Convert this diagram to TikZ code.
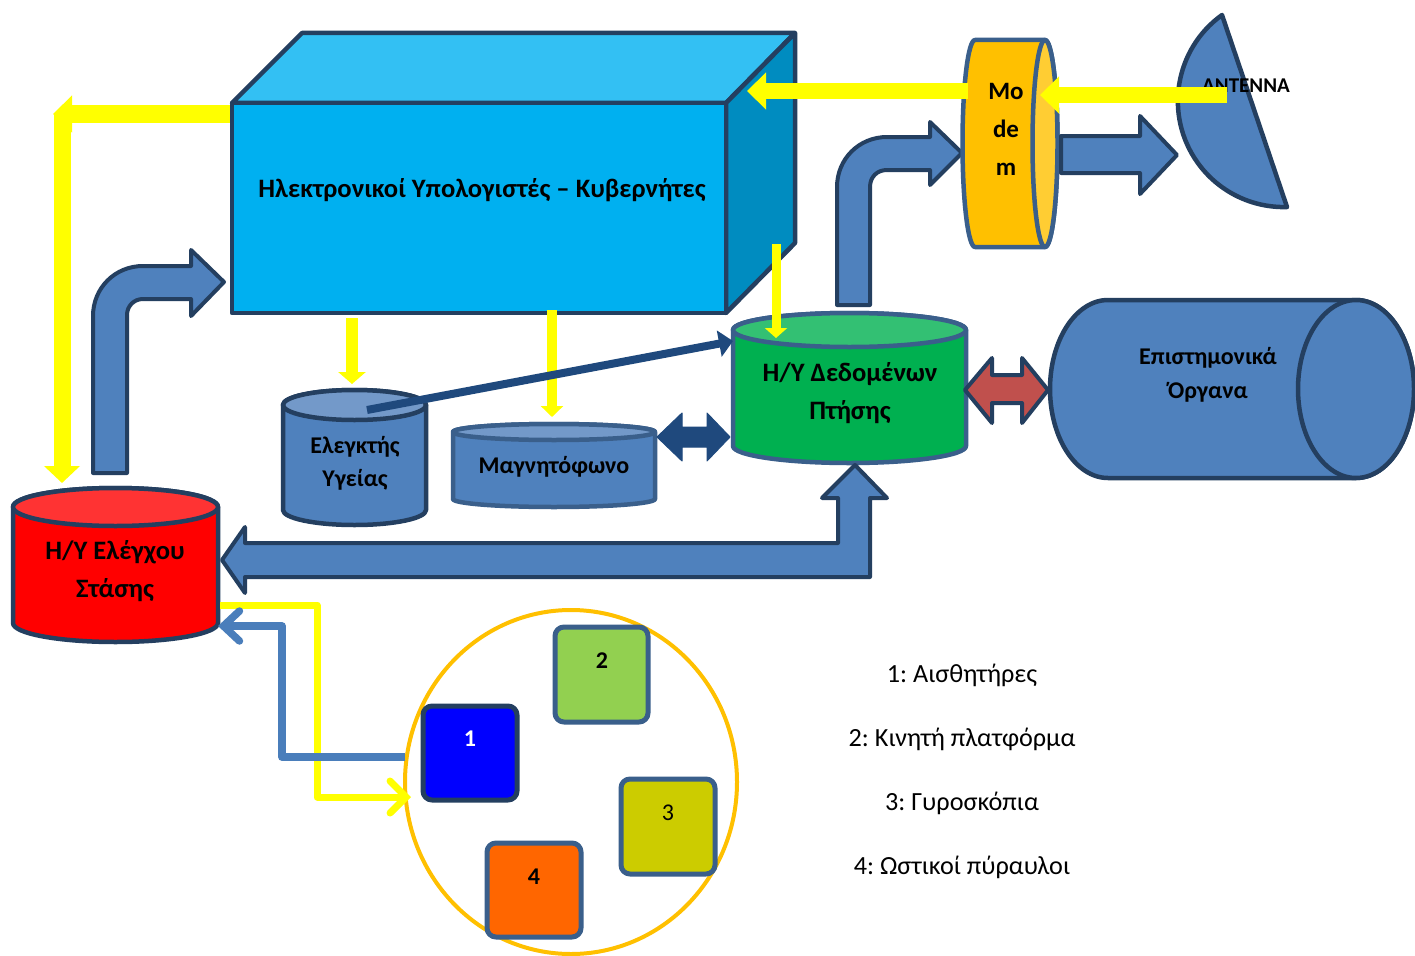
\documentclass[tikz,border=0pt]{standalone}
\usepackage{fontspec}
\setmainfont{Carlito}
\frenchspacing
\usetikzlibrary{arrows.meta}
\definecolor{navy}{HTML}{243F60}
\definecolor{steel}{HTML}{3A5F8B}
\definecolor{blueA}{HTML}{4F81BD}
\definecolor{blueTop}{HTML}{7399C9}
\definecolor{boxFront}{HTML}{00B0F0}
\definecolor{boxTop}{HTML}{33C0F3}
\definecolor{boxSide}{HTML}{008CC0}
\definecolor{grn}{HTML}{00B050}
\definecolor{grnTop}{HTML}{33C073}
\definecolor{redA}{HTML}{FF0000}
\definecolor{redTop}{HTML}{FF3333}
\definecolor{modemA}{HTML}{FFC000}
\definecolor{modemTop}{HTML}{FFCD33}
\definecolor{darkArrow}{HTML}{1F497D}
\definecolor{redArrow}{HTML}{C0504D}
\definecolor{ylw}{HTML}{FFFF00}
\definecolor{circ}{HTML}{FFC000}
\definecolor{sqOne}{HTML}{0000FF}
\definecolor{sqTwo}{HTML}{92D050}
\definecolor{sqThree}{HTML}{CCCC00}
\definecolor{sqFour}{HTML}{FF6600}
\definecolor{lineBlue}{HTML}{4A7EBB}
\newcommand\mycyl[8]{%
 \pgfmathsetmacro\myrx{(#2-#1)/2}%
 \pgfmathsetmacro\mycx{(#1+#2)/2}%
 \filldraw[fill=#6, draw=#8, line width=4.5pt] (#1,#3) -- (#1,#4) arc[start angle=180,end angle=360,x radius=\myrx pt,y radius=#5 pt] -- (#2,#3) arc[start angle=0,end angle=180,x radius=\myrx pt,y radius=#5 pt] -- cycle;
 \filldraw[fill=#7, draw=#8, line width=4.5pt] (\mycx,#3) ellipse[x radius=\myrx pt, y radius=#5 pt];
}
\begin{document}
\begin{tikzpicture}[x=1pt,y=-1pt,line join=round,
  lbl/.style={font=\bfseries\fontsize{24}{38}\selectfont, align=center, text=black, inner sep=0pt},
  biglbl/.style={lbl, font=\bfseries\fontsize{26.6}{38}\selectfont},
  legend/.style={font=\fontsize{26.2}{31}\selectfont, text=black, inner sep=0pt},
  bigarrow/.style={fill=blueA, draw=navy, line width=4pt},
  yarrow/.style={draw=ylw},
  sqbox/.style={rounded corners=9pt, line width=5pt}]
\useasboundingbox (0,0) rectangle (1415,955);
\fill[white] (0,0) rectangle (1415,955);

% named coordinates
\coordinate (boxL) at (230,114);
\coordinate (corner) at (53,114);
\coordinate (cornerV) at (62,114);
\coordinate (redTopPt) at (62,483);

% yellow arrows top-left
\draw[yarrow, line width=18pt, -{Triangle[length=19pt,width=36pt]}] (boxL) -- (corner);
\draw[yarrow, line width=17pt, -{Triangle[length=17pt,width=35pt]}] (cornerV) -- (redTopPt);

% 3D box
\filldraw[fill=boxTop, draw=navy, line width=4.5pt] (232,103) -- (302,33) -- (795,33) -- (726,103) -- cycle;
\filldraw[fill=boxSide, draw=navy, line width=4.5pt] (726,103) -- (795,33) -- (795,243) -- (726,313) -- cycle;
\filldraw[fill=boxFront, draw=navy, line width=4.5pt] (232,103) rectangle (726,313);
\node[biglbl] (comp) at (482,190) {Ηλεκτρονικοί Υπολογιστές – Κυβερνήτες};

% bent arrow from red cylinder to box
\filldraw[bigarrow] (93,473) -- (93,316) .. controls (93,288) and (115,266) .. (143,266) -- (191,266) -- (191,250) -- (224,282) -- (191,316) -- (191,299) -- (143,299) .. controls (134,299) and (127,306) .. (127,315) -- (127,473) -- cycle;

% cylinders
\mycyl{13}{218}{507}{623}{19}{redA}{redTop}{navy}
\node[biglbl] (att) at (115,571) {H/Y Ελέγχου\\Στάσης};
\mycyl{283}{426}{405}{510}{15}{blueA}{blueTop}{navy}
\node[lbl, font=\bfseries\fontsize{24}{33}\selectfont] (health) at (355,463) {Ελεγκτής\\Υγείας};
\mycyl{453}{655}{432}{499}{8}{blueA}{blueTop}{steel}
\node[lbl] (tape) at (554,467) {Μαγνητόφωνο};
\mycyl{733}{966}{330}{446}{17}{grn}{grnTop}{steel}
\node[biglbl] (fdc) at (850,393) {H/Y Δεδομένων\\Πτήσης};

% scientific instruments (horizontal cylinder)
\filldraw[fill=blueA, draw=navy, line width=4.5pt] (1108,300) -- (1356,300) arc[start angle=90,end angle=-90,x radius=58pt,y radius=89pt] -- (1108,478) arc[start angle=270,end angle=90,x radius=58pt,y radius=89pt] -- cycle;
\filldraw[fill=blueA, draw=navy, line width=4.5pt] (1356,389) ellipse[x radius=58pt, y radius=89pt];
\node[lbl, font=\bfseries\fontsize{24}{34}\selectfont] (sci) at (1208,375) {Επιστημονικά\\Όργανα};

% red double arrow
\filldraw[fill=redArrow, draw=navy, line width=4pt] (965,390) -- (992,358) -- (992,375) -- (1022,375) -- (1022,358) -- (1048,390) -- (1022,423) -- (1022,403) -- (992,403) -- (992,423) -- cycle;

% bent arrow to modem
\filldraw[bigarrow] (837,305) -- (837,187) .. controls (837,159) and (859,137) .. (887,137) -- (930,137) -- (930,122) -- (962,153) -- (930,185) -- (930,170) -- (887,170) .. controls (877,170) and (870,177) .. (870,187) -- (870,305) -- cycle;

% modem
\filldraw[fill=modemA, draw=steel, line width=4.5pt] (975,40) -- (1045,40) arc[start angle=90,end angle=-90,x radius=12.5pt,y radius=103.5pt] -- (975,247) arc[start angle=270,end angle=90,x radius=12.5pt,y radius=103.5pt] -- cycle;
\filldraw[fill=modemTop, draw=steel, line width=4.5pt] (1045,143.5) ellipse[x radius=12.5pt, y radius=103.5pt];
\node[lbl, font=\bfseries\fontsize{25}{38}\selectfont] (modem) at (1006,129) {Mo\\de\\m};

% modem -> antenna arrow
\filldraw[bigarrow] (1061,136) -- (1140,136) -- (1140,116) -- (1177,155) -- (1140,194) -- (1140,173) -- (1061,173) -- cycle;

% antenna
\filldraw[fill=blueA, draw=navy, line width=4.5pt] (1222,15) arc[start angle=125.7,end angle=271.7,radius=106pt] -- cycle;
\node[lbl, font=\bfseries\fontsize{21}{24}\selectfont] (ant) at (1246,86) {ANTENNA};

% yellow arrows near modem
\coordinate (antOut) at (1227,95);
\coordinate (modemIn) at (1040,95);
\coordinate (modemOut) at (968,91);
\coordinate (boxIn) at (747,91);
\draw[yarrow, line width=16pt, -{Triangle[length=19pt,width=36pt]}] (antOut) -- (modemIn);
\draw[yarrow, line width=16pt, -{Triangle[length=19pt,width=36pt]}] (modemOut) -- (boxIn);

% yellow down arrows
\draw[yarrow, line width=12pt, -{Triangle[length=12pt,width=27pt]}] (352,318) -- (352,384);
\draw[yarrow, line width=10pt, -{Triangle[length=11pt,width=22pt]}] (552,310) -- (552,417);
\draw[yarrow, line width=9pt, -{Triangle[length=10pt,width=22pt]}] (776,244) -- (776,338);

% dark double arrow
\filldraw[fill=darkArrow, draw=darkArrow, line width=1pt] (657,437) -- (682,413) -- (682,427) -- (707,427) -- (707,413) -- (730,437) -- (707,461) -- (707,447) -- (682,447) -- (682,461) -- cycle;

% health -> flight data arrow
\coordinate (hStart) at (367,410);
\coordinate (fdcIn) at (733,341);
\draw[darkArrow, line width=8pt, -{Triangle[length=14pt,width=26pt]}] (hStart) -- (fdcIn);

% bottom bent arrow
\filldraw[bigarrow] (222,560) -- (245,527) -- (245,543) -- (838,543) -- (838,498) -- (822,498) -- (855,465) -- (887,498) -- (870,498) -- (870,577) -- (245,577) -- (245,593) -- cycle;

% circle with squares
\draw[circ, line width=4pt] (571,782) ellipse[x radius=166pt, y radius=172pt];
\filldraw[sqbox, fill=sqOne, draw=navy] (423,706) rectangle (517,800);
\filldraw[sqbox, fill=sqTwo, draw=steel] (555,627) rectangle (648,722);
\filldraw[sqbox, fill=sqThree, draw=steel] (621,779) rectangle (715,874);
\filldraw[sqbox, fill=sqFour, draw=steel] (487,843) rectangle (581,937);
\node[lbl, text=white] (s1) at (470,739) {1};
\node[lbl] (s2) at (602,661) {2};
\node[lbl, font=\fontsize{24}{29}\selectfont] (s3) at (668,813) {3};
\node[lbl] (s4) at (534,877) {4};

% yellow and blue feedback lines
\coordinate (redOut) at (220,605);
\coordinate (circIn) at (411,797);
\coordinate (circOut) at (405,757);
\coordinate (redIn) at (218,626);
\draw[yarrow, line width=7pt, -{Straight Barb[length=16pt,width=32pt,line cap=round]}] (redOut) -- (317,605) -- (317,797) -- (circIn);
\draw[lineBlue, line width=7.5pt, -{Straight Barb[length=16pt,width=30pt,line cap=round]}] (circOut) -- (282,757) -- (282,626) -- (redIn);

% legend
\node[legend] (l1) at (962,675) {1: Αισθητήρες};
\node[legend] (l2) at (962,739) {2: Κινητή πλατφόρμα};
\node[legend] (l3) at (962,803) {3: Γυροσκόπια};
\node[legend] (l4) at (962,867) {4: Ωστικοί πύραυλοι};
\end{tikzpicture}
\end{document}
